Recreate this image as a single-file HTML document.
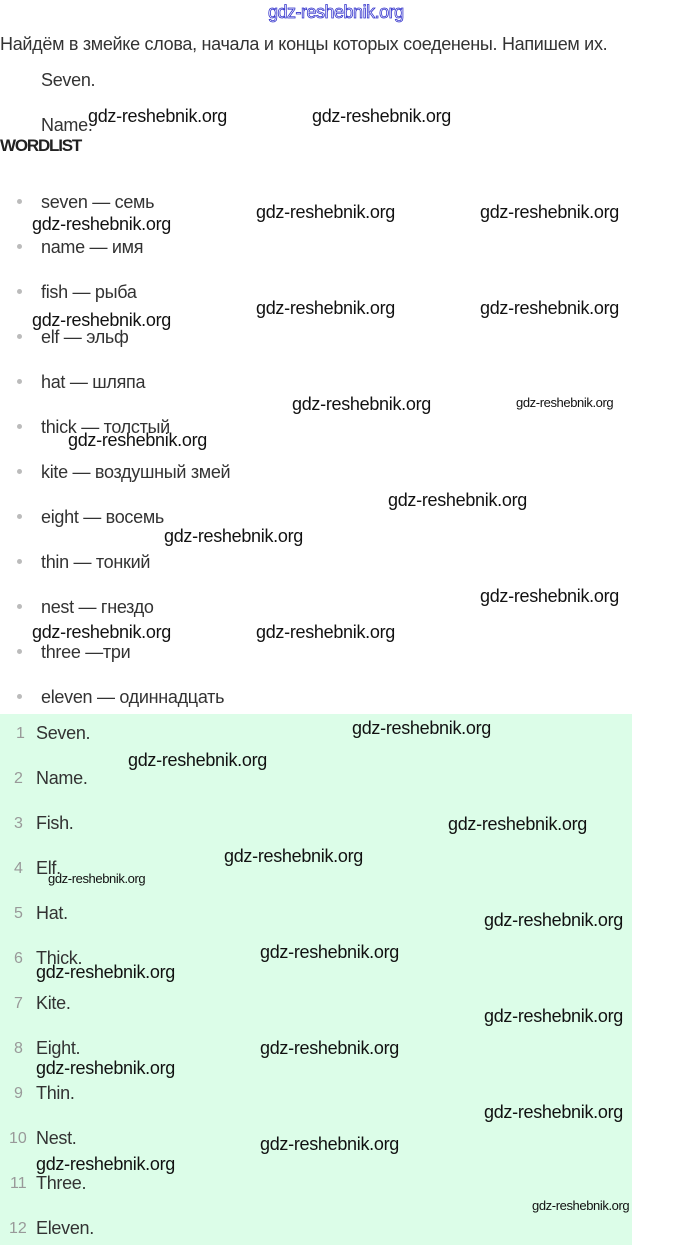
<!DOCTYPE html>
<html><head><meta charset="utf-8"><style>
body{margin:0;width:680px;height:1245px;position:relative;background:#fff;font-family:"Liberation Sans",sans-serif;overflow:hidden}
.t{position:absolute;font-size:18px;color:#333;line-height:20px;white-space:nowrap;letter-spacing:-0.3px}
.w{position:absolute;font-size:18px;color:#111;line-height:20px;white-space:nowrap;letter-spacing:-0.3px}
.s{position:absolute;font-size:13px;color:#111;line-height:14px;white-space:nowrap;letter-spacing:-0.4px}
.b{position:absolute;width:5px;height:5px;border-radius:50%;background:#bbb}
.n{position:absolute;font-size:16px;color:#999;line-height:20px}
#g{position:absolute;left:0;top:714px;width:632px;height:531px;background:#dcfde8}
</style></head><body>
<div class="t" style="left:268px;top:2px;font-size:18px;color:#fff;-webkit-text-stroke:0.8px #3333cc;letter-spacing:-0.5px">gdz-reshebnik.org</div>
<div class="t" style="left:0;top:34px">Найдём в змейке слова, начала и концы которых соеденены. Напишем их.</div>
<div class="t" style="left:41px;top:70px">Seven.</div>
<div class="t" style="left:41px;top:115px">Name.</div>
<div class="t" style="left:0;top:136px;font-weight:bold;font-size:17px;letter-spacing:-1.2px;color:#222">WORDLIST</div>
<div id="g"></div>
<div class="b" style="left:17px;top:199px"></div><div class="t" style="left:41px;top:192px">seven — семь</div>
<div class="b" style="left:17px;top:244px"></div><div class="t" style="left:41px;top:237px">name — имя</div>
<div class="b" style="left:17px;top:289px"></div><div class="t" style="left:41px;top:282px">fish — рыба</div>
<div class="b" style="left:17px;top:334px"></div><div class="t" style="left:41px;top:327px">elf — эльф</div>
<div class="b" style="left:17px;top:379px"></div><div class="t" style="left:41px;top:372px">hat — шляпа</div>
<div class="b" style="left:17px;top:424px"></div><div class="t" style="left:41px;top:417px">thick — толстый</div>
<div class="b" style="left:17px;top:469px"></div><div class="t" style="left:41px;top:462px">kite — воздушный змей</div>
<div class="b" style="left:17px;top:514px"></div><div class="t" style="left:41px;top:507px">eight — восемь</div>
<div class="b" style="left:17px;top:559px"></div><div class="t" style="left:41px;top:552px">thin — тонкий</div>
<div class="b" style="left:17px;top:604px"></div><div class="t" style="left:41px;top:597px">nest — гнездо</div>
<div class="b" style="left:17px;top:649px"></div><div class="t" style="left:41px;top:642px">three —три</div>
<div class="b" style="left:17px;top:694px"></div><div class="t" style="left:41px;top:687px">eleven — одиннадцать</div>
<div class="n" style="left:16px;top:724px">1</div><div class="t" style="left:36px;top:723px">Seven.</div>
<div class="n" style="left:14px;top:769px">2</div><div class="t" style="left:36px;top:768px">Name.</div>
<div class="n" style="left:14px;top:814px">3</div><div class="t" style="left:36px;top:813px">Fish.</div>
<div class="n" style="left:14px;top:859px">4</div><div class="t" style="left:36px;top:858px">Elf.</div>
<div class="n" style="left:14px;top:904px">5</div><div class="t" style="left:36px;top:903px">Hat.</div>
<div class="n" style="left:14px;top:949px">6</div><div class="t" style="left:36px;top:948px">Thick.</div>
<div class="n" style="left:14px;top:994px">7</div><div class="t" style="left:36px;top:993px">Kite.</div>
<div class="n" style="left:14px;top:1039px">8</div><div class="t" style="left:36px;top:1038px">Eight.</div>
<div class="n" style="left:14px;top:1084px">9</div><div class="t" style="left:36px;top:1083px">Thin.</div>
<div class="n" style="left:9px;top:1129px">10</div><div class="t" style="left:36px;top:1128px">Nest.</div>
<div class="n" style="left:10px;top:1174px">11</div><div class="t" style="left:36px;top:1173px">Three.</div>
<div class="n" style="left:9px;top:1219px">12</div><div class="t" style="left:36px;top:1218px">Eleven.</div>
<div class="w" style="left:88px;top:106px">gdz-reshebnik.org</div>
<div class="w" style="left:312px;top:106px">gdz-reshebnik.org</div>
<div class="w" style="left:32px;top:214px">gdz-reshebnik.org</div>
<div class="w" style="left:256px;top:202px">gdz-reshebnik.org</div>
<div class="w" style="left:480px;top:202px">gdz-reshebnik.org</div>
<div class="w" style="left:32px;top:310px">gdz-reshebnik.org</div>
<div class="w" style="left:256px;top:298px">gdz-reshebnik.org</div>
<div class="w" style="left:480px;top:298px">gdz-reshebnik.org</div>
<div class="w" style="left:292px;top:394px">gdz-reshebnik.org</div>
<div class="s" style="left:516px;top:396px">gdz-reshebnik.org</div>
<div class="w" style="left:68px;top:430px">gdz-reshebnik.org</div>
<div class="w" style="left:388px;top:490px">gdz-reshebnik.org</div>
<div class="w" style="left:164px;top:526px">gdz-reshebnik.org</div>
<div class="w" style="left:480px;top:586px">gdz-reshebnik.org</div>
<div class="w" style="left:32px;top:622px">gdz-reshebnik.org</div>
<div class="w" style="left:256px;top:622px">gdz-reshebnik.org</div>
<div class="w" style="left:352px;top:718px">gdz-reshebnik.org</div>
<div class="w" style="left:128px;top:750px">gdz-reshebnik.org</div>
<div class="w" style="left:448px;top:814px">gdz-reshebnik.org</div>
<div class="w" style="left:224px;top:846px">gdz-reshebnik.org</div>
<div class="s" style="left:48px;top:872px">gdz-reshebnik.org</div>
<div class="w" style="left:484px;top:910px">gdz-reshebnik.org</div>
<div class="w" style="left:260px;top:942px">gdz-reshebnik.org</div>
<div class="w" style="left:36px;top:962px">gdz-reshebnik.org</div>
<div class="w" style="left:484px;top:1006px">gdz-reshebnik.org</div>
<div class="w" style="left:260px;top:1038px">gdz-reshebnik.org</div>
<div class="w" style="left:36px;top:1058px">gdz-reshebnik.org</div>
<div class="w" style="left:484px;top:1102px">gdz-reshebnik.org</div>
<div class="w" style="left:260px;top:1134px">gdz-reshebnik.org</div>
<div class="w" style="left:36px;top:1154px">gdz-reshebnik.org</div>
<div class="s" style="left:532px;top:1199px">gdz-reshebnik.org</div>
</body></html>
